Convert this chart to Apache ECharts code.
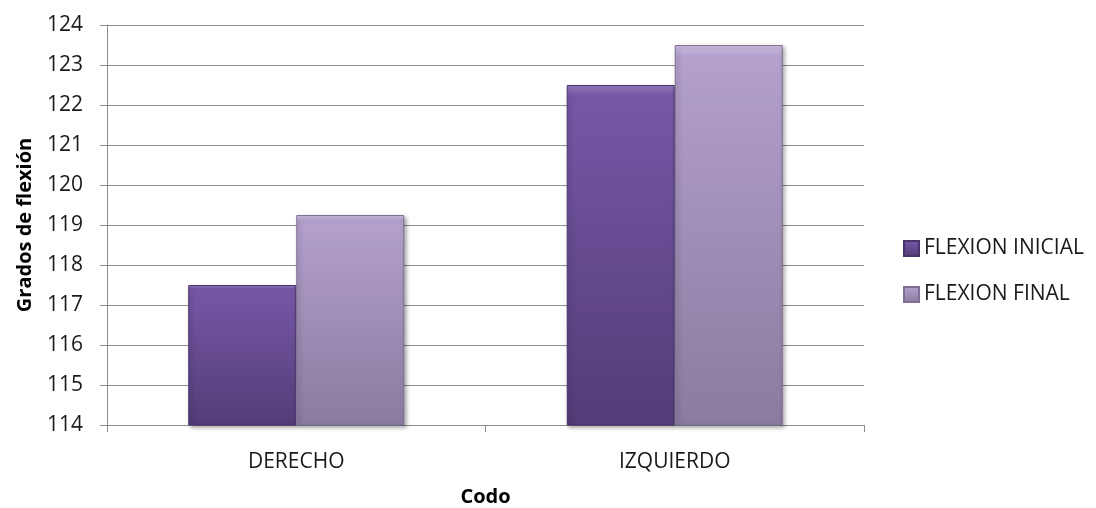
<!DOCTYPE html>
<html>
<head>
<meta charset="utf-8">
<script src="https://cdn.jsdelivr.net/npm/echarts@6/dist/echarts.min.js"></script>
<style>
  html, body { margin: 0; padding: 0; background: #fff; }
  #chart { width: 1096px; height: 508px; }
</style>
</head>
<body>
<div id="chart"></div>
<script>
// Flexion del codo, grados medidos al inicio y al final
const categories = ['DERECHO', 'IZQUIERDO'];
const flexionInicial = [117.5, 122.5];
const flexionFinal = [119.25, 123.5];
const yMin = 114, yMax = 124, yStep = 1;

const FONT = '"Open Sans", "Noto Sans", sans-serif';

function grad(top, mid, bottom) {
  return new echarts.graphic.LinearGradient(0, 0, 0, 1, [
    { offset: 0, color: top },
    { offset: 0.03, color: mid },
    { offset: 1, color: bottom }
  ]);
}

const chart = echarts.init(document.getElementById('chart'), null, { renderer: 'canvas' });
chart.setOption({
  animation: false,
  backgroundColor: '#ffffff',
  grid: { left: 107, right: 232, top: 25, bottom: 83, containLabel: false, outerBoundsMode: 'none' },
  legend: {
    orient: 'vertical',
    left: 898,
    top: 233,
    itemWidth: 15,
    itemHeight: 15,
    itemGap: 25,
    icon: 'rect',
    textStyle: { fontFamily: FONT, fontSize: 21, color: '#1a1a1a', padding: [0, 0, 0, 0] },
    data: ['FLEXION INICIAL', 'FLEXION FINAL']
  },
  xAxis: {
    type: 'category',
    data: categories,
    name: 'Codo',
    nameLocation: 'middle',
    nameGap: 62,
    nameTextStyle: { fontFamily: FONT, fontSize: 20, fontWeight: 'bold', color: '#000' },
    axisLine: { lineStyle: { color: '#8c8c8c', width: 1 } },
    axisTick: { show: true, length: 7, lineStyle: { color: '#8c8c8c' } },
    axisLabel: { fontFamily: FONT, fontSize: 21, color: '#1a1a1a', margin: 27 }
  },
  yAxis: {
    type: 'value',
    min: yMin,
    max: yMax,
    interval: yStep,
    name: 'Grados de flexión',
    nameLocation: 'middle',
    nameGap: 72,
    nameTextStyle: { fontFamily: FONT, fontSize: 20, fontWeight: 'bold', color: '#000' },
    axisLine: { show: true, lineStyle: { color: '#8c8c8c', width: 1 } },
    axisTick: { show: true, length: 7, lineStyle: { color: '#8c8c8c' } },
    axisLabel: { fontFamily: FONT, fontSize: 21, color: '#1a1a1a', margin: 24 },
    splitLine: { lineStyle: { color: '#8c8c8c', width: 1 } }
  },
  series: [
    {
      name: 'FLEXION INICIAL',
      type: 'bar',
      data: flexionInicial,
      barWidth: 108,
      barGap: '0%',
      itemStyle: {
        color: grad('#9a80c4', '#7657a6', '#533c78'),
        borderColor: '#4a346c',
        borderWidth: 1,
        shadowColor: 'rgba(0,0,0,0.35)',
        shadowBlur: 4,
        shadowOffsetX: 2,
        shadowOffsetY: 2
      }
    },
    {
      name: 'FLEXION FINAL',
      type: 'bar',
      data: flexionFinal,
      barWidth: 108,
      itemStyle: {
        color: grad('#d2c3e6', '#b3a0cd', '#8a7b9f'),
        borderColor: '#7f7093',
        borderWidth: 1,
        shadowColor: 'rgba(0,0,0,0.35)',
        shadowBlur: 4,
        shadowOffsetX: 2,
        shadowOffsetY: 2
      }
    }
  ]
});
</script>
</body>
</html>
